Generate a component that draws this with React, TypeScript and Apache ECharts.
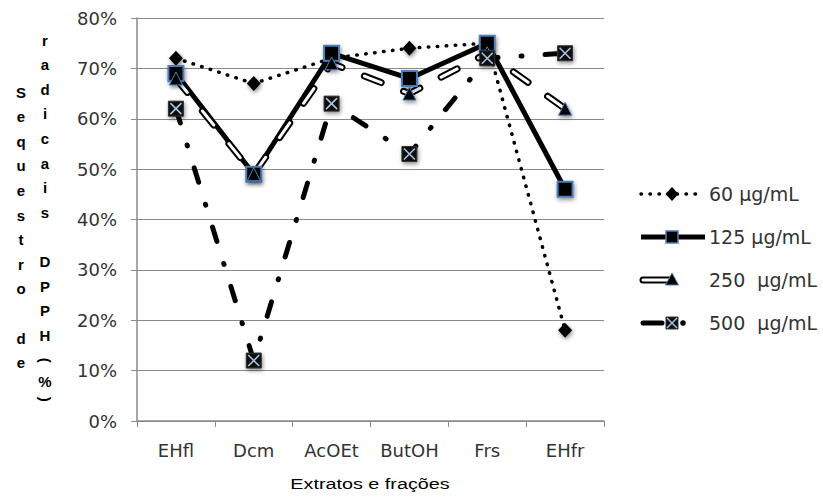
import React, { useEffect, useRef } from "react";
import * as echarts from "echarts";

// Extracts / fractions on the category axis
const categories = ["EHfl", "Dcm", "AcOEt", "ButOH", "Frs", "EHfr"];
// Concentration tested for each curve
const seriesNames = ["60 µg/mL", "125 µg/mL", "250  µg/mL", "500  µg/mL"];
// DPPH radical scavenging (%)
const values60 = [72, 67, 72, 74, 75, 18];
const values125 = [69, 49, 73, 68, 75, 46];
const values250 = [68, 49, 71, 65, 73, 62];
const values500 = [62, 12, 63, 53, 72, 73];
// Value axis range (percent)
const yMin = 0;
const yMax = 80;
const yStep = 10;

const xTitle = "Extratos e frações";
const yTitleLeft = "Sequestro de";
const yTitleRight = "radicais DPPH";
const yTitleUnit = "(%)";

const TICK_FONT = "DejaVu Sans";
const TEXT_COLOR = "#333333";
const AXIS_GRAY = "#8a8a8a";
const MARKER_BLUE = "#4A7EBB";
const CROSS_BLUE = "#A9C2E2";

const markerShadow = {
  shadowBlur: 4,
  shadowColor: "rgba(0,0,0,0.45)",
  shadowOffsetX: 1,
  shadowOffsetY: 2,
};

function stackedColumn(text: string, x: number, y0: number, step: number) {
  return text.split("").map((ch, i) => ({
    type: "text",
    x,
    y: y0 + i * step,
    style: {
      text: ch,
      font: "bold 15px 'Liberation Sans'",
      fill: "#000",
      align: "center",
      verticalAlign: "middle",
    },
  }));
}

function buildGraphics() {
  const els: any[] = [];
  // stacked vertical title of the value axis
  const step = 24.6;
  els.push(...stackedColumn(yTitleLeft, 21, 92, step));
  els.push(...stackedColumn(yTitleRight, 45, 40, step));
  const unitStart = 40 + (yTitleRight.length - 1) * step;
  const unitOffsets = [25, 46, 64];
  yTitleUnit.split("").forEach((ch, i) => {
    const paren = ch === "(" || ch === ")";
    els.push({
      type: "text",
      x: 45,
      y: unitStart + unitOffsets[i],
      rotation: paren ? -Math.PI / 2 : 0,
      style: {
        text: ch,
        font: "bold 15px 'Liberation Sans'",
        fill: "#000",
        align: "center",
        verticalAlign: "middle",
      },
    });
  });

  // category axis title
  els.push({
    type: "text",
    x: 370,
    y: 484,
    scaleX: 1.32,
    style: {
      text: xTitle,
      font: "15px 'Liberation Sans'",
      fill: "#000",
      align: "center",
      verticalAlign: "middle",
    },
  });

  // legend
  const rows = [194, 237, 280, 323];
  const lx0 = 641;
  const lx1 = 705;
  const mx = 672;
  const textX = 709;
  rows.forEach((y, i) => {
    els.push({
      type: "text",
      x: textX,
      y,
      style: {
        text: seriesNames[i],
        font: `19px '${TICK_FONT}'`,
        fill: TEXT_COLOR,
        align: "left",
        verticalAlign: "middle",
      },
    });
  });
  // 60: dotted with diamond
  els.push({
    type: "line",
    shape: { x1: lx0, y1: rows[0], x2: lx1 - 4, y2: rows[0] },
    style: { stroke: "#000", lineWidth: 3.5, lineDash: [0.5, 8.5], lineCap: "round" },
  });
  els.push({
    type: "polygon",
    shape: { points: [[mx, rows[0] - 7], [mx + 6.5, rows[0]], [mx, rows[0] + 7], [mx - 6.5, rows[0]]] },
    style: { fill: "#000" },
  });
  // 125: solid with square
  els.push({
    type: "line",
    shape: { x1: lx0, y1: rows[1], x2: lx1, y2: rows[1] },
    style: { stroke: "#000", lineWidth: 5 },
  });
  els.push({
    type: "rect",
    shape: { x: mx - 6, y: rows[1] - 6, width: 12, height: 12 },
    style: { fill: "#000", stroke: MARKER_BLUE, lineWidth: 1.5 },
  });
  // 250: double line with triangle
  els.push({
    type: "line",
    shape: { x1: lx0 + 2, y1: rows[2], x2: mx, y2: rows[2] },
    style: { stroke: "#000", lineWidth: 7, lineCap: "round" },
  });
  els.push({
    type: "line",
    shape: { x1: lx0 + 2, y1: rows[2], x2: mx, y2: rows[2] },
    style: { stroke: "#fff", lineWidth: 3, lineCap: "round" },
  });
  els.push({
    type: "polygon",
    shape: { points: [[mx, rows[2] - 7], [mx + 6.5, rows[2] + 5], [mx - 6.5, rows[2] + 5]] },
    style: { fill: "#000", stroke: MARKER_BLUE, lineWidth: 1 },
  });
  // 500: dash-dot with crossed box
  els.push({
    type: "line",
    shape: { x1: lx0 + 2, y1: rows[3], x2: mx - 10, y2: rows[3] },
    style: { stroke: "#000", lineWidth: 5, lineCap: "round" },
  });
  els.push({
    type: "circle",
    shape: { cx: mx + 11, cy: rows[3], r: 2.8 },
    style: { fill: "#000" },
  });
  els.push({
    type: "rect",
    shape: { x: mx - 6, y: rows[3] - 6, width: 12, height: 12 },
    style: { fill: "#111", stroke: "#333", lineWidth: 1 },
  });
  els.push({
    type: "line",
    shape: { x1: mx - 5, y1: rows[3] - 5, x2: mx + 5, y2: rows[3] + 5 },
    style: { stroke: CROSS_BLUE, lineWidth: 1.4 },
  });
  els.push({
    type: "line",
    shape: { x1: mx + 5, y1: rows[3] - 5, x2: mx - 5, y2: rows[3] + 5 },
    style: { stroke: CROSS_BLUE, lineWidth: 1.4 },
  });
  return els;
}

export default function App() {
  const ref = useRef<HTMLDivElement>(null);

  useEffect(() => {
    document.body.style.margin = "0";
    if (!ref.current) return;
    const chart = echarts.init(ref.current, null, { renderer: "svg" });

    const option: any = {
      animation: false,
      backgroundColor: "#ffffff",
      grid: { left: 137, right: 219, top: 18, bottom: 77, containLabel: false },
      xAxis: {
        type: "category",
        data: categories,
        boundaryGap: true,
        axisLine: { lineStyle: { color: AXIS_GRAY, width: 1.5 } },
        axisTick: { show: true, length: 6, lineStyle: { color: AXIS_GRAY, width: 1 } },
        axisLabel: { fontFamily: TICK_FONT, fontSize: 18, color: TEXT_COLOR, margin: 20 },
        splitLine: { show: false },
      },
      yAxis: {
        type: "value",
        min: yMin,
        max: yMax,
        interval: yStep,
        axisLine: { show: true, lineStyle: { color: AXIS_GRAY, width: 1.5 } },
        axisTick: { show: true, length: 6, lineStyle: { color: AXIS_GRAY } },
        axisLabel: {
          fontFamily: TICK_FONT,
          fontSize: 18,
          color: TEXT_COLOR,
          margin: 20,
          formatter: "{value}%",
        },
        splitLine: { show: true, lineStyle: { color: AXIS_GRAY, width: 1 } },
      },
      series: [
        {
          name: seriesNames[0],
          type: "line",
          data: values60,
          symbol: "diamond",
          symbolSize: [14, 15],
          showAllSymbol: true,
          itemStyle: { color: "#000", ...markerShadow },
          lineStyle: { color: "#000", width: 3.5, type: [0.5, 8.5], cap: "round" },
          emphasis: { disabled: true },
        },
        {
          name: seriesNames[1],
          type: "line",
          data: values125,
          symbol: "rect",
          symbolSize: 15,
          showAllSymbol: true,
          itemStyle: { color: "#000", borderColor: MARKER_BLUE, borderWidth: 2, ...markerShadow },
          lineStyle: { color: "#000", width: 5 },
          emphasis: { disabled: true },
        },
        {
          name: seriesNames[2] + " outline",
          type: "line",
          data: values250,
          symbol: "none",
          lineStyle: { color: "#000", width: 7, type: [18, 24], cap: "round" },
          emphasis: { disabled: true },
        },
        {
          name: seriesNames[2],
          type: "line",
          data: values250,
          symbol: "triangle",
          symbolSize: 13,
          showAllSymbol: true,
          itemStyle: { color: "#000", borderColor: MARKER_BLUE, borderWidth: 1, ...markerShadow },
          lineStyle: { color: "#fff", width: 3, type: [18, 24], cap: "round" },
          emphasis: { disabled: true },
        },
        {
          name: seriesNames[3],
          type: "line",
          data: values500,
          symbol: "rect",
          symbolSize: 15,
          showAllSymbol: true,
          itemStyle: { color: "#111", borderColor: "#333", borderWidth: 1, ...markerShadow },
          lineStyle: { color: "#000", width: 5, type: [15, 23, 1, 23], cap: "round" },
          emphasis: { disabled: true },
        },
        {
          name: seriesNames[3] + " cross",
          type: "line",
          data: values500,
          symbol: "path://M0,0L10,10M10,0L0,10",
          symbolSize: 11,
          showAllSymbol: true,
          itemStyle: { color: "transparent", borderColor: CROSS_BLUE, borderWidth: 1.6 },
          lineStyle: { opacity: 0 },
          emphasis: { disabled: true },
          silent: true,
        },
      ],
      graphic: buildGraphics(),
    };

    chart.setOption(option);
    return () => chart.dispose();
  }, []);

  return <div ref={ref} style={{ width: 823, height: 498 }} />;
}
